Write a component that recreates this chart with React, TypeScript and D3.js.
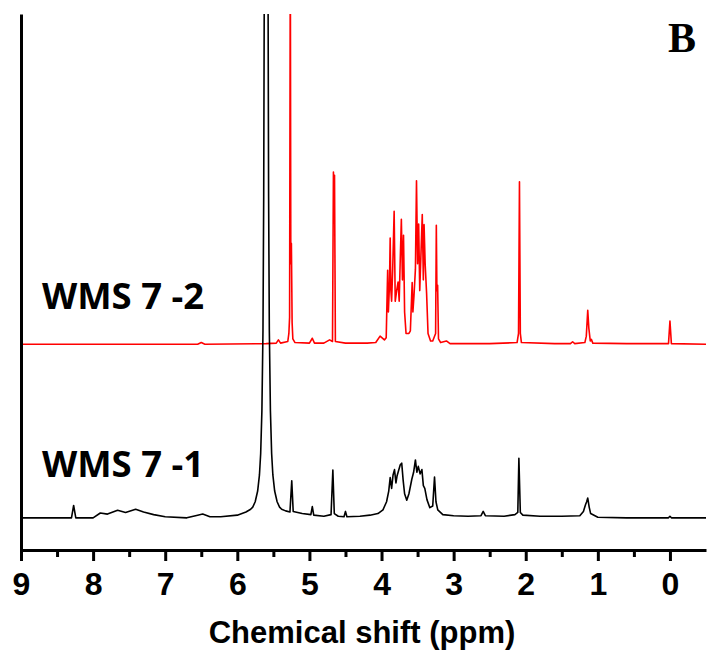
import React, { useRef, useEffect } from "react";
import { select, scaleLinear, axisBottom, axisLeft, line } from "d3";

// chemical shift axis
const ppmTicks = [9, 8, 7, 6, 5, 4, 3, 2, 1, 0];
const ppmMinorTicks = [8.5, 7.5, 6.5, 5.5, 4.5, 3.5, 2.5, 1.5, 0.5];
const ppmRange = [9, -0.5];

// vertical stacking of the two spectra (arbitrary intensity units, 0..100 shown)
const blackOffset = 6;
const redOffset = 38.4;

// WMS 7 -1 : [ppm, intensity above its baseline]
const wms71: [number, number][] = [
  [9.0, 0], [8.3, 0], [8.27, 2.3], [8.24, 0], [8.0, 0], [7.9, 0.9], [7.8, 0.7],
  [7.66, 1.4], [7.55, 1.0], [7.41, 1.6], [7.3, 1.1], [7.16, 0.6], [7.0, 0.2],
  [6.7, 0], [6.55, 0.5], [6.48, 0.7], [6.38, 0.2], [6.23, 0.2], [6.0, 0.5],
  [5.88, 1.1], [5.815, 1.6], [5.786, 2], [5.752, 3], [5.718, 5], [5.693, 8],
  [5.676, 12], [5.659, 20], [5.644, 35], [5.634, 60], [5.626, 100], [5.615, 200],
  [5.6, 400], [5.585, 200], [5.574, 100], [5.566, 60], [5.556, 35], [5.541, 20],
  [5.524, 12], [5.507, 8], [5.482, 5], [5.448, 3], [5.414, 2], [5.385, 1.6],
  [5.33, 1.3], [5.27, 1.1], [5.245, 6.9], [5.225, 1.2], [5.1, 0.8], [4.98, 0.6],
  [4.96, 2.1], [4.94, 0.5], [4.8, 0.3], [4.7, 0.6], [4.675, 8.9], [4.655, 0.8],
  [4.6, 0.3], [4.52, 0.2], [4.5, 1.2], [4.48, 0.2], [4.3, 0.3], [4.16, 0.5],
  [4.05, 0.8], [3.98, 1.5], [3.93, 3.0], [3.9, 5], [3.88, 7.5], [3.86, 5.5],
  [3.84, 8], [3.82, 9.0], [3.8, 6.5], [3.785, 7.8], [3.77, 8.5], [3.74, 9.9],
  [3.72, 10.2], [3.7, 7], [3.68, 4.5], [3.65, 3.3], [3.62, 4.5], [3.58, 7.2],
  [3.555, 8.5], [3.53, 10.8], [3.51, 8.5], [3.49, 9.6], [3.465, 8.2], [3.44, 9.0],
  [3.42, 6.0], [3.4, 5.5], [3.37, 3.4], [3.33, 1.9], [3.29, 2.2], [3.265, 7.6],
  [3.245, 3.0], [3.22, 1.5], [3.15, 0.6], [3.0, 0.4], [2.8, 0.3], [2.62, 0.4],
  [2.59, 1.2], [2.56, 0.4], [2.3, 0.3], [2.15, 0.6], [2.11, 1.0], [2.095, 11.1],
  [2.075, 1.0], [2.04, 0.5], [1.8, 0.3], [1.5, 0.3], [1.25, 0.4], [1.2, 1.2],
  [1.17, 2.5], [1.155, 3.0], [1.14, 3.7], [1.12, 2.0], [1.1, 0.8], [1.0, 0.1],
  [0.6, 0], [0.02, 0], [0.0, 0.3], [-0.02, 0], [-0.5, 0],
];

// WMS 7 -2 : [ppm, intensity above its baseline]
const wms72: [number, number][] = [
  [9.0, 0], [6.55, 0], [6.5, 0.3], [6.45, 0], [5.6, 0.1], [5.46, 0.2],
  [5.43, 0.8], [5.4, 0.2], [5.3, 0.5], [5.285, 2], [5.275, 5], [5.265, 75],
  [5.258, 15], [5.25, 18.8], [5.24, 4], [5.23, 1], [5.2, 0.3], [5.0, 0.2],
  [4.96, 1.1], [4.93, 0.2], [4.8, 0.2], [4.72, 0.8], [4.68, 0.5], [4.667, 32.1],
  [4.66, 25], [4.652, 31.5], [4.64, 0.5], [4.5, 0.2], [4.2, 0.2], [4.08, 0.3],
  [4.02, 1.5], [3.96, 0.8], [3.935, 1.2], [3.915, 13.8], [3.905, 6], [3.89, 11],
  [3.88, 19.8], [3.87, 10], [3.86, 8], [3.845, 14], [3.825, 24.8], [3.81, 8],
  [3.79, 10], [3.77, 11.6], [3.755, 8], [3.74, 16], [3.725, 23.3], [3.71, 12],
  [3.695, 20.3], [3.68, 6], [3.66, 2], [3.62, 2.0], [3.6, 2.5], [3.575, 11.5],
  [3.565, 6], [3.55, 9], [3.53, 14], [3.515, 30.5], [3.5, 15], [3.485, 22.4],
  [3.47, 10], [3.455, 16], [3.435, 24.2], [3.42, 12], [3.41, 22.3], [3.395, 15],
  [3.375, 9.5], [3.355, 2], [3.32, 0.6], [3.29, 0.6], [3.25, 2], [3.24, 22.2],
  [3.232, 10], [3.222, 11], [3.21, 1], [3.18, 0.3], [3.1, 0.6], [3.05, 0.1],
  [2.5, 0.1], [2.12, 0.3], [2.1, 2], [2.087, 30.3], [2.075, 2], [2.06, 0.3],
  [1.6, 0.1], [1.38, 0.1], [1.35, 0.45], [1.32, 0.1], [1.18, 0.3], [1.16, 1.5],
  [1.14, 6.3], [1.125, 3], [1.105, 0.6], [1.09, 0.9], [1.07, 0.2], [0.6, 0.1],
  [0.02, 0.1], [0.0, 4.3], [-0.02, 0.1], [-0.5, 0],
];

const labelTop = "WMS 7 -2";
const labelBottom = "WMS 7 -1";
const panelLabel = "B";
const xTitle = "Chemical shift (ppm)";

function NmrStack() {
  const svgRef = useRef<SVGSVGElement | null>(null);

  useEffect(() => {
    const svg = select(svgRef.current);
    svg.selectAll("*").remove();

    const left = 21;
    const right = 706;
    const top = 14;
    const bottom = 550;

    const x = scaleLinear().domain(ppmRange).range([left, right]);
    const y = scaleLinear().domain([0, 100]).range([bottom, top]);

    svg
      .append("defs")
      .append("clipPath")
      .attr("id", "plot-clip")
      .append("rect")
      .attr("x", left)
      .attr("y", top)
      .attr("width", right - left)
      .attr("height", bottom - top);

    // spectra
    const spectra = [
      { data: wms72, offset: redOffset, color: "#ff0000" },
      { data: wms71, offset: blackOffset, color: "#000000" },
    ];
    spectra.forEach((s) => {
      const path = line<[number, number]>()
        .x((d) => x(d[0]))
        .y((d) => y(d[1] + s.offset));
      svg
        .append("path")
        .datum(s.data)
        .attr("clip-path", "url(#plot-clip)")
        .attr("d", path)
        .attr("fill", "none")
        .attr("stroke", s.color)
        .attr("stroke-width", 1.6)
        .attr("stroke-linejoin", "round");
    });

    // minor ticks first, then the major axis on top
    const minor = axisBottom(x)
      .tickValues(ppmMinorTicks)
      .tickSize(7)
      .tickSizeOuter(0)
      .tickFormat(() => "");
    const gMinor = svg
      .append("g")
      .attr("transform", `translate(0,${bottom})`)
      .call(minor);
    gMinor.select(".domain").remove();
    gMinor.selectAll("line").attr("stroke-width", 3);

    const major = axisBottom(x)
      .tickValues(ppmTicks)
      .tickSize(11)
      .tickSizeOuter(0)
      .tickPadding(11)
      .tickFormat((d) => String(d));
    const gx = svg
      .append("g")
      .attr("transform", `translate(0,${bottom})`)
      .call(major);
    gx.select(".domain").attr("stroke-width", 3);
    gx.selectAll("line").attr("stroke-width", 3);
    gx.selectAll("text")
      .attr("font-family", "'Liberation Sans', Arial, sans-serif")
      .attr("font-weight", "bold")
      .attr("font-size", 32)
      .attr("fill", "#000");

    const gy = svg
      .append("g")
      .attr("transform", `translate(${left},0)`)
      .call(axisLeft(y).tickValues([]).tickSizeOuter(0));
    gy.select(".domain").attr("stroke-width", 3);

    // axis title
    svg
      .append("text")
      .attr("x", 362)
      .attr("y", 643)
      .attr("text-anchor", "middle")
      .attr("font-family", "'Liberation Sans', Arial, sans-serif")
      .attr("font-weight", "bold")
      .attr("font-size", 31)
      .text(xTitle);

    // sample labels
    const labels = [
      { text: labelTop, y: 309 },
      { text: labelBottom, y: 477 },
    ];
    labels.forEach((l) => {
      svg
        .append("text")
        .attr("x", 42)
        .attr("y", l.y)
        .attr("font-family", "'Open Sans', sans-serif")
        .attr("font-weight", "bold")
        .attr("font-size", 36)
        .attr("textLength", 162)
        .attr("lengthAdjust", "spacingAndGlyphs")
        .text(l.text);
    });

    svg
      .append("text")
      .attr("x", 668)
      .attr("y", 52)
      .attr("font-family", "'Liberation Serif', 'Times New Roman', serif")
      .attr("font-weight", "bold")
      .attr("font-size", 42)
      .text(panelLabel);
  }, []);

  return (
    <svg
      ref={svgRef}
      width={709}
      height={651}
      style={{ position: "absolute", left: 0, top: 0, background: "#fff" }}
    />
  );
}

export default function App() {
  return <NmrStack />;
}
